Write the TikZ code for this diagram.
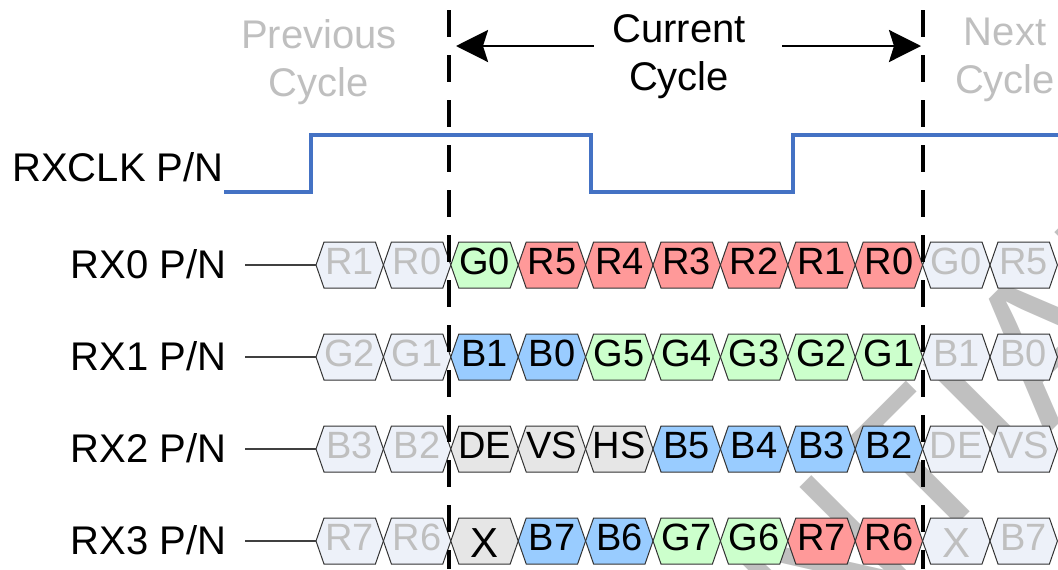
\documentclass[tikz,border=0pt]{standalone}
\usepackage{fontspec}
\setmainfont{Liberation Sans}
\usepackage{tikz}
\usetikzlibrary{arrows.meta}

\definecolor{clkblue}{HTML}{4472C4}
\definecolor{oldbg}{HTML}{EDF1F9}
\definecolor{oldfg}{HTML}{BFBFBF}
\definecolor{grnbg}{HTML}{CCFFCC}
\definecolor{redbg}{HTML}{FF9999}
\definecolor{blubg}{HTML}{99CCFF}
\definecolor{grybg}{HTML}{E6E6E6}
\definecolor{markgray}{HTML}{C0C0C0}

\newcommand{\lowx}{\raisebox{-3.5pt}{\fontsize{21}{22}\selectfont X}}

\tikzset{
    sig/.style={anchor=east, inner xsep=9pt, inner ysep=0pt, font=\fontsize{20}{24}\selectfont, text height=14.3pt, text depth=1pt},
    cyc/.style={anchor=north, inner xsep=9pt, inner ysep=0pt, align=center, font=\fontsize{20}{24}\selectfont},
    cell/.style={draw=black!80, line width=0.5pt},
    celltext/.style={fill=none, draw=none, minimum width=33.7pt, minimum height=23pt, inner sep=0pt, font=\fontsize{19}{22}\selectfont, text height=13.8pt, text depth=4.5pt},
    hold/.style={fill=oldbg, text=oldfg},
    hgrn/.style={fill=grnbg},
    hred/.style={fill=redbg},
    hblu/.style={fill=blubg},
    hgry/.style={fill=grybg}
}

\begin{document}
\begin{tikzpicture}[x=0.5pt, y=-0.5pt]
    \useasboundingbox (0,0) rectangle (1058,569);

    % watermark
    \begin{scope}
        \clip (0,0) rectangle (1058,569);
        \node[rotate=45, text=markgray, font=\fontsize{100}{100}\selectfont] (mark) at (652,733) {CONFIDENTIAL};
    \end{scope}

    % cycle labels
    \node[cyc, text=oldfg] (prev) at (319,19.5) {Previous\\Cycle};
    \node[cyc] (cur) at (679,14) {Current\\Cycle};
    \node[cyc, text=oldfg] (next) at (1005,18) {Next\\Cycle};

    % clock
    \node[sig, inner xsep=0pt] (clk) at (224,168) {RXCLK P/N};
    \draw[clkblue, line width=1.6pt] (clk.east |- 0,192) -- (311,192) -- (311,135) -- (591,135)
        -- (591,192) -- (793,192) -- (793,135) -- (1058,135);

    % data lanes
    \node[sig] (rx0) at (245,265) {RX0 P/N};
    \node[sig] (rx1) at (245,357) {RX1 P/N};
    \node[sig] (rx2) at (245,449) {RX2 P/N};
    \node[sig] (rx3) at (245,541) {RX3 P/N};

    \foreach \t/\f [count=\i from 0] in {R1/hold,R0/hold,G0/hgrn,R5/hred,R4/hred,R3/hred,R2/hred,R1/hred,R0/hred,G0/hold,R5/hold} {
        \filldraw[cell, \f] ({316+67.4*\i},265) -- ++(8,-23) -- ++(51.4,0) -- ++(8,23) -- ++(-8,23) -- ++(-51.4,0) -- cycle;
        \node[\f, celltext] (rx0-\i) at ({349.7+67.4*\i},265) {\t};
    }
    \foreach \t/\f [count=\i from 0] in {G2/hold,G1/hold,B1/hblu,B0/hblu,G5/hgrn,G4/hgrn,G3/hgrn,G2/hgrn,G1/hgrn,B1/hold,B0/hold} {
        \filldraw[cell, \f] ({316+67.4*\i},357) -- ++(8,-23) -- ++(51.4,0) -- ++(8,23) -- ++(-8,23) -- ++(-51.4,0) -- cycle;
        \node[\f, celltext] (rx1-\i) at ({349.7+67.4*\i},357) {\t};
    }
    \foreach \t/\f [count=\i from 0] in {B3/hold,B2/hold,DE/hgry,VS/hgry,HS/hgry,B5/hblu,B4/hblu,B3/hblu,B2/hblu,DE/hold,VS/hold} {
        \filldraw[cell, \f] ({316+67.4*\i},449) -- ++(8,-23) -- ++(51.4,0) -- ++(8,23) -- ++(-8,23) -- ++(-51.4,0) -- cycle;
        \node[\f, celltext] (rx2-\i) at ({349.7+67.4*\i},449) {\t};
    }
    \foreach \t/\f [count=\i from 0] in {R7/hold,R6/hold,\lowx/hgry,B7/hblu,B6/hblu,G7/hgrn,G6/hgrn,R7/hred,R6/hred,\lowx/hold,B7/hold} {
        \filldraw[cell, \f] ({316+67.4*\i},541) -- ++(8,-23) -- ++(51.4,0) -- ++(8,23) -- ++(-8,23) -- ++(-51.4,0) -- cycle;
        \node[\f, celltext] (rx3-\i) at ({349.7+67.4*\i},541) {\t};
    }

    \draw[black!75, line width=0.8pt] (rx0) -- (rx0-0.west)
                                      (rx1) -- (rx1-0.west)
                                      (rx2) -- (rx2-0.west)
                                      (rx3) -- (rx3-0.west);

    % cycle boundaries
    \coordinate (b0) at (449,10);
    \coordinate (b1) at (923,10);
    \draw[line width=1.8pt, dash pattern=on 13.5pt off 9pt] (b0) -- (b0 |- 0,569)
                                                         (b1) -- (b1 |- 0,569);
    \coordinate (lt) at (456,46);
    \coordinate (rt) at (921,46);
    \draw[line width=1.4pt, -{Stealth[length=16pt, width=16pt, inset=2.5pt]}] (cur.west |- lt) -- (lt);
    \draw[line width=1.4pt, -{Stealth[length=16pt, width=16pt, inset=2.5pt]}] ([xshift=9pt]cur.east |- rt) -- (rt);
\end{tikzpicture}
\end{document}
